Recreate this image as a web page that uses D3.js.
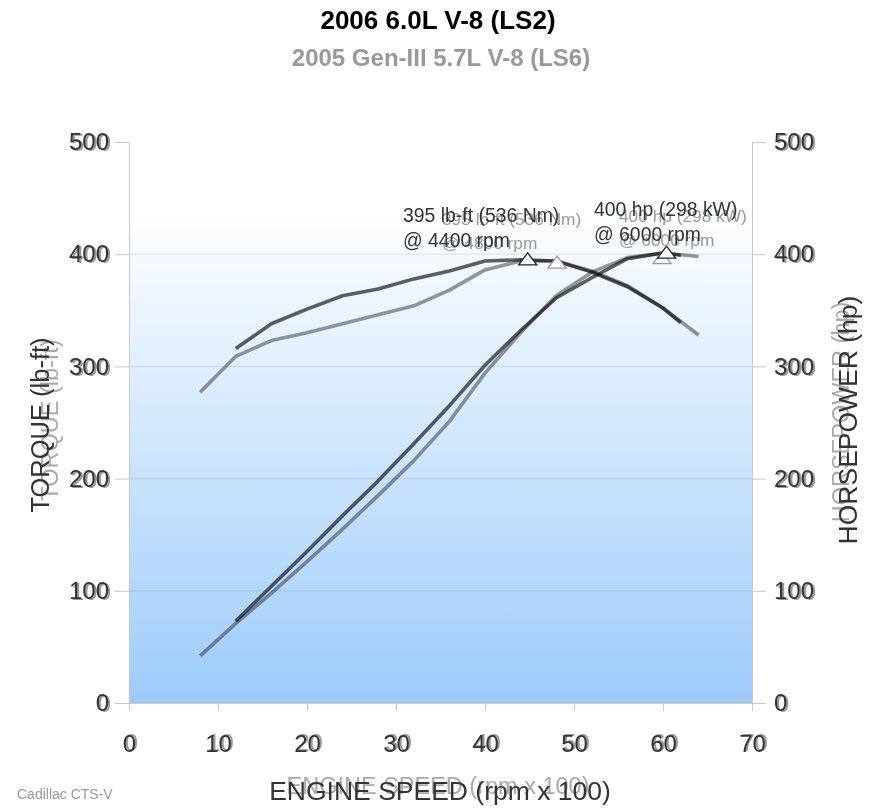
<!DOCTYPE html>
<html><head><meta charset="utf-8">
<script src="https://cdn.jsdelivr.net/npm/d3@7"></script>
<style>
html,body{margin:0;padding:0;background:#fff;}
svg{display:block;font-family:"Liberation Sans",Arial,Helvetica,sans-serif;}
</style></head>
<body><svg id="c" width="877" height="812"></svg>
<script>
// ---- data ----
const titleMain = "2006 6.0L V-8 (LS2)";
const titleGhost = "2005 Gen-III 5.7L V-8 (LS6)";
const xTicks = [0,10,20,30,40,50,60,70];
const yTicks = [0,100,200,300,400,500];
const rpmLS2 = [12,16,20,24,28,32,36,40,44,48,52,56,60,62];
const torqueLS2 = [316,338,351,363,369,378,385,394,395,394,384,371,352,339];
const hpLS2 = [73,104,135,167,198,231,265,301,332,361,379,396,401,399];
const rpmLS6 = [8,12,16,20,24,28,32,36,40,44,48,52,56,60,64];
const torqueLS6 = [277,309,323,330,338,346,354,368,386,394,394,385,372,352,328];
const hpLS6 = [42,71,98,126,155,185,216,251,294,330,363,384,397,401,398];
const markRpmLS2 = [44.8,60.4], markValLS2 = [395,401];
const markRpmLS6 = [48.1,59.9], markValLS6 = [392,396];
const annotLS2 = ["395 lb-ft (536 Nm)","@ 4400 rpm","400 hp (298 kW)","@ 6000 rpm"];
const annotLS6 = ["395 lb-ft (536 Nm)","@ 4800 rpm","400 hp (298 kW)","@ 6000 rpm"];
const xTitle = "ENGINE SPEED (rpm x 100)";
const yLeftTitle = "TORQUE (lb-ft)";
const yRightTitle = "HORSEPOWER (hp)";
const credit = "Cadillac CTS-V";

// ---- chart ----
const svg = d3.select("#c");
const x = d3.scaleLinear([0,70],[129,752]);
const y = d3.scaleLinear([0,500],[703,142]);
const defs = svg.append("defs");
const g = defs.append("linearGradient").attr("id","bg").attr("x1",0).attr("y1",0).attr("x2",0).attr("y2",1);
g.append("stop").attr("offset","0").attr("stop-color","#ffffff");
g.append("stop").attr("offset","0.12").attr("stop-color","#ffffff");
g.append("stop").attr("offset","1").attr("stop-color","#9ccbfa");

svg.append("rect").attr("x",x(0)).attr("y",y(500)).attr("width",x(70)-x(0)).attr("height",y(0)-y(500)).attr("fill","url(#bg)");

// grid
svg.append("g").selectAll("line").data(yTicks.filter(d=>d>0&&d<500)).join("line")
  .attr("x1",x(0)).attr("x2",x(70)).attr("y1",d=>y(d)).attr("y2",d=>y(d))
  .attr("stroke","#000").attr("stroke-opacity",0.09).attr("stroke-width",1.2);

function styleAxis(sel, color, size){
  sel.select(".domain").attr("stroke","#c8c8c8");
  sel.selectAll(".tick line").attr("stroke","#c8c8c8");
  sel.selectAll(".tick text").attr("fill",color).attr("font-size",size).attr("font-family","'Liberation Sans',Arial,sans-serif");
}
// ghost axes (LS6 overlay)
const gl = svg.append("g").attr("transform",`translate(${x(0)+2},1)`).call(d3.axisLeft(y).tickValues(yTicks).tickSize(14).tickSizeOuter(0).tickPadding(6));
gl.select(".domain").remove(); gl.selectAll(".tick line").remove();
gl.selectAll(".tick text").attr("fill","#999").attr("font-size",24);
const gr = svg.append("g").attr("transform",`translate(${x(70)+2},1)`).call(d3.axisRight(y).tickValues(yTicks).tickSize(14).tickSizeOuter(0).tickPadding(8));
gr.select(".domain").remove(); gr.selectAll(".tick line").remove();
gr.selectAll(".tick text").attr("fill","#999").attr("font-size",24);
const gb = svg.append("g").attr("transform",`translate(2,${y(0)+3})`).call(d3.axisBottom(x).tickValues(xTicks).tickSize(8).tickSizeOuter(0).tickPadding(20));
gb.select(".domain").remove(); gb.selectAll(".tick line").remove();
gb.selectAll(".tick text").attr("fill","#999").attr("font-size",24);

// main axes
const al = svg.append("g").attr("transform",`translate(${x(0)},0)`).call(d3.axisLeft(y).tickValues(yTicks).tickSize(14).tickSizeOuter(0).tickPadding(6));
styleAxis(al,"#333",24);
const ar = svg.append("g").attr("transform",`translate(${x(70)},0)`).call(d3.axisRight(y).tickValues(yTicks).tickSize(14).tickSizeOuter(0).tickPadding(8));
styleAxis(ar,"#333",24);
const ab = svg.append("g").attr("transform",`translate(0,${y(0)})`).call(d3.axisBottom(x).tickValues(xTicks).tickSize(8).tickSizeOuter(0).tickPadding(24));
styleAxis(ab,"#333",24);

// lines
const line = (xs,ys)=>d3.line().x((d,i)=>x(xs[i])).y(d=>y(d))(ys);
const lg = svg.append("g");
function drawLine(xs,ys,color){
  lg.append("path").attr("d",line(xs,ys)).attr("fill","none").attr("stroke",color)
    .attr("stroke-width",3.6).attr("stroke-linejoin","round").style("mix-blend-mode","multiply");
}
drawLine(rpmLS6,torqueLS6,"#9a9a9a");
drawLine(rpmLS6,hpLS6,"#9a9a9a");
drawLine(rpmLS2,torqueLS2,"#606060");
drawLine(rpmLS2,hpLS2,"#606060");

// markers
const tri = "M0,-7 L9,5 L-9,5 Z";
function drawMarks(rs,vs,color){
  svg.append("g").selectAll("path").data(vs).join("path")
    .attr("d",tri).attr("transform",(d,i)=>`translate(${x(rs[i])},${y(d)})`)
    .attr("fill","#fff").attr("stroke",color).attr("stroke-width",1.3);
}
drawMarks(markRpmLS6,markValLS6,"#9a9a9a");
drawMarks(markRpmLS2,markValLS2,"#222");

// annotations
const ann = svg.append("g");
function annText(t,px,py,size,color){
  ann.append("text").attr("x",px).attr("y",py).attr("font-size",size).attr("fill",color).text(t);
}
annText(annotLS6[0],442,225,17.3,"#999");
annText(annotLS6[1],442,249,17.3,"#999");
annText(annotLS6[2],619,222,17.3,"#999");
annText(annotLS6[3],619,246,17.3,"#999");
annText(annotLS2[0],403,222,19.4,"#333");
annText(annotLS2[1],403,247,19.4,"#333");
annText(annotLS2[2],594,216,19.4,"#333");
annText(annotLS2[3],594,241,19.4,"#333");

// titles
svg.append("text").attr("x",438).attr("y",29).attr("text-anchor","middle").attr("font-weight","bold").attr("font-size",26).attr("fill","#000").text(titleMain);
svg.append("text").attr("x",441).attr("y",66).attr("text-anchor","middle").attr("font-weight","bold").attr("font-size",24).attr("fill","#999").text(titleGhost);

// axis titles
svg.append("text").attr("x",438).attr("y",794).attr("text-anchor","middle").attr("font-size",23.5).attr("fill","#aaa").text(xTitle);
svg.append("text").attr("x",440).attr("y",800).attr("text-anchor","middle").attr("font-size",26.5).attr("fill","#333").text(xTitle);
svg.append("text").attr("transform","translate(58,420) rotate(-90)").attr("text-anchor","middle").attr("font-size",23.5).attr("fill","#aaa").text(yLeftTitle);
svg.append("text").attr("transform","translate(49,425) rotate(-90)").attr("text-anchor","middle").attr("font-size",25.5).attr("fill","#333").text(yLeftTitle);
svg.append("text").attr("transform","translate(849,412) rotate(-90)").attr("text-anchor","middle").attr("font-size",23.5).attr("fill","#aaa").text(yRightTitle);
svg.append("text").attr("transform","translate(857,420) rotate(-90)").attr("text-anchor","middle").attr("font-size",26.5).attr("fill","#333").text(yRightTitle);

svg.append("text").attr("x",17).attr("y",799).attr("font-size",14).attr("fill","#999").text(credit);
</script></body></html>
